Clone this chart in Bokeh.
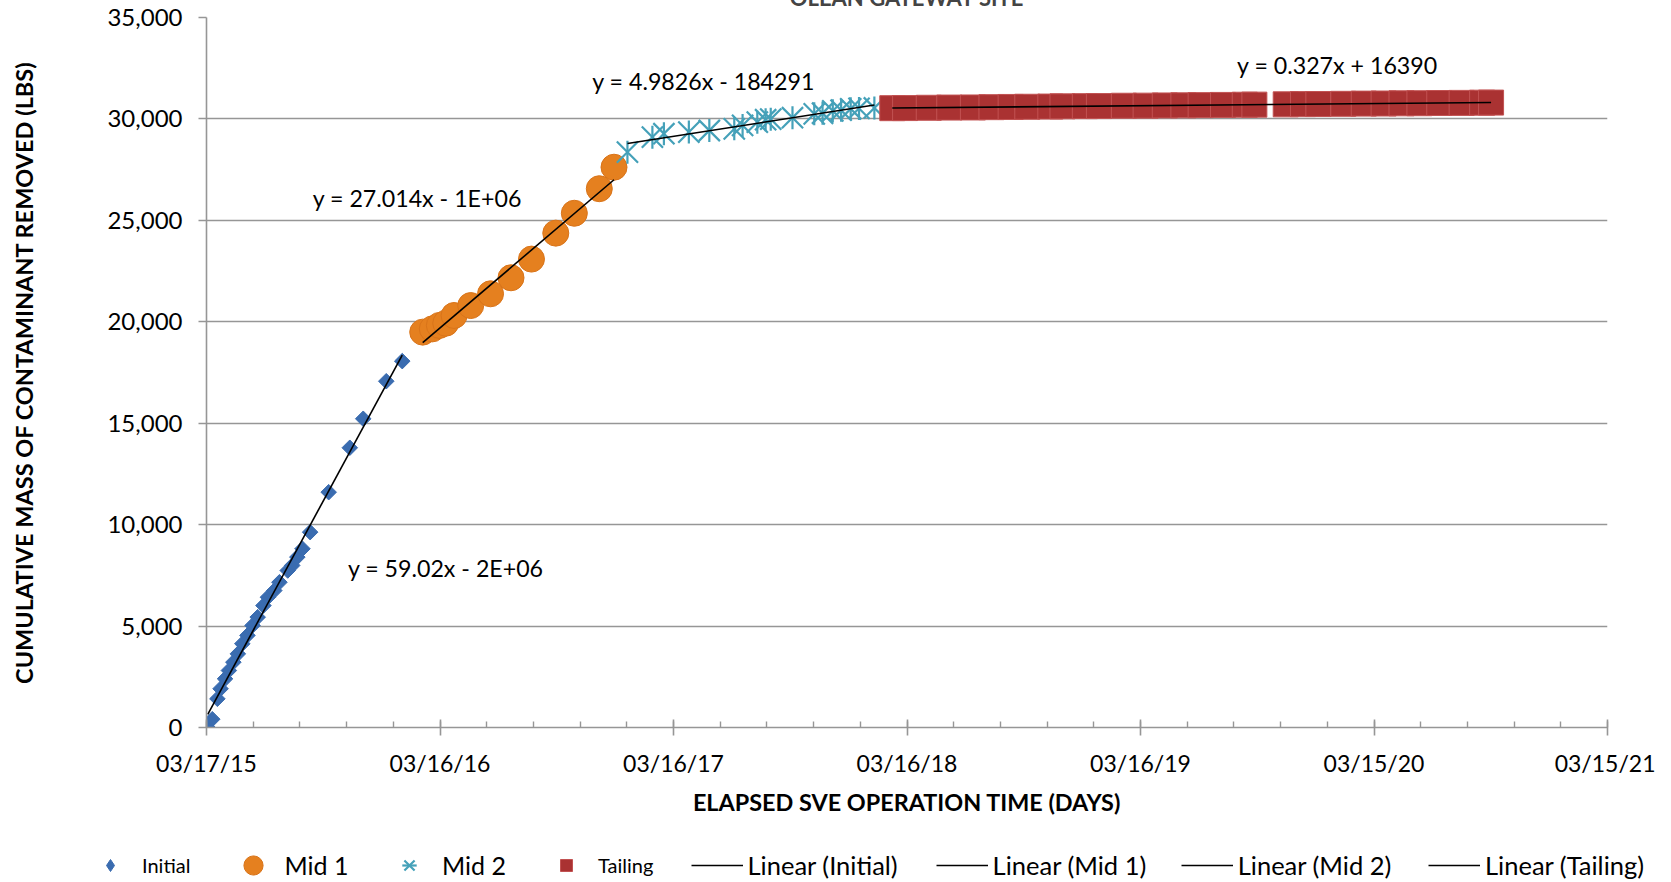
import numpy as np
from bokeh.plotting import figure
from bokeh.layouts import column
from bokeh.models import (Range1d, FixedTicker, NumeralTickFormatter, Legend,
                          LegendItem, Label)
from bokeh.embed import file_html
from bokeh.resources import INLINE

# ---------------- data (elapsed days since 03/17/15, cumulative lbs) ----------------
initial_days = [2, 9, 17, 22, 29, 35, 42, 49, 56, 64, 72, 80, 89, 96, 106, 114,
                127, 134, 142, 150, 162, 191, 224, 245, 281, 306]
initial_lbs = [0, 410, 1415, 1910, 2400, 2810, 3220, 3630, 4130, 4540, 5030, 5440,
               6010, 6420, 6750, 7160, 7740, 7990, 8400, 8810, 9630, 11600, 13790,
               15220, 17070, 18060]

mid1_days = [338, 353, 364, 374, 387, 413, 444, 476, 508, 546, 575, 614, 637]
mid1_lbs = [19490, 19650, 19820, 19930, 20310, 20800, 21380, 22170, 23090, 24370,
            25350, 26560, 27620]

mid2_days = [658, 697, 715, 754, 786, 825, 838, 861, 874, 882, 916, 950, 963, 979,
             992, 1007, 1020, 1044]
mid2_lbs = [28360, 29100, 29270, 29350, 29430, 29510, 29680, 29840, 29960, 29990,
            30060, 30250, 30280, 30400, 30430, 30500, 30520, 30540]

tail_days = [1072, 1092, 1129, 1161, 1198, 1227, 1257, 1283, 1319, 1338, 1373, 1395,
             1434, 1468, 1498, 1527, 1554, 1589, 1623, 1638, 1687, 1714, 1738, 1777,
             1809, 1840, 1868, 1896, 1927, 1962, 1994, 2008]
tail_lbs = [30530, 30535, 30550, 30560, 30565, 30580, 30590, 30600, 30610, 30620,
            30630, 30635, 30650, 30655, 30665, 30670, 30680, 30690, 30700, 30705,
            30720, 30730, 30735, 30745, 30755, 30760, 30770, 30775, 30785, 30790,
            30800, 30805]

series_names = ["Initial", "Mid 1", "Mid 2", "Tailing"]
equations = ["y = 59.02x - 2E+06", "y = 27.014x - 1E+06", "y = 4.9826x - 184291",
             "y = 0.327x + 16390"]
eq_days = [221, 166, 603, 1611]
eq_lbs = [7840, 26120, 31890, 32680]

x_tick_days = [0, 365, 730, 1095, 1460, 1825, 2190]
x_tick_labels = ["03/17/15", "03/16/16", "03/16/17", "03/16/18", "03/16/19",
                 "03/15/20", "03/15/21"]
x_minor_days = list(range(0, 2191, 73))
y_ticks = [0, 5000, 10000, 15000, 20000, 25000, 30000, 35000]

title_text = "OLEAN GATEWAY SITE"
x_title = "ELAPSED SVE OPERATION TIME (DAYS)"
y_title = "CUMULATIVE MASS OF CONTAMINANT REMOVED (LBS)"

# ---------------- styles ----------------
FONT = "Lato"
GRID = "#969696"
C_INIT = "#3a6cb0"
C_MID1 = "#e5801f"
C_MID1_LINE = "#d9741a"
C_MID2 = "#45a1b9"
C_TAIL = "#aa3232"
C_TAIL_LINE = "#c25252"

W = 1655
MAIN_H = 860
LEG_H = 66

# ---------------- main figure ----------------
p = figure(width=W, height=MAIN_H, output_backend="svg", toolbar_location=None,
           x_range=Range1d(0, 2190), y_range=Range1d(0, 35000),
           min_border_left=206, min_border_right=48, min_border_top=57,
           min_border_bottom=93)
p.outline_line_color = None
p.title.text = title_text
p.title.text_font = FONT
p.title.text_font_style = "bold"
p.title.text_font_size = "22px"
p.title.align = "center"
p.title.offset = -5
p.title.standoff = 14

p.xgrid.grid_line_color = None
p.ygrid.grid_line_color = GRID
p.ygrid.grid_line_width = 1.6
p.ygrid.ticker = FixedTicker(ticks=y_ticks)

xa = p.xaxis[0]
xa.ticker = FixedTicker(ticks=x_tick_days, minor_ticks=x_minor_days)
xa.major_label_overrides = {d: s for d, s in zip(x_tick_days, x_tick_labels)}
xa.axis_line_color = GRID
xa.axis_line_width = 1.6
xa.major_tick_line_color = GRID
xa.major_tick_line_width = 1.6
xa.major_tick_in = 8
xa.major_tick_out = 8
xa.minor_tick_line_color = GRID
xa.minor_tick_line_width = 1.4
xa.minor_tick_in = 6
xa.minor_tick_out = 0
xa.major_label_text_font = FONT
xa.major_label_text_font_size = "23px"
xa.major_label_text_color = "black"
xa.major_label_standoff = 13
xa.axis_label = x_title
xa.axis_label_text_font = FONT
xa.axis_label_text_font_style = "bold"
xa.axis_label_text_font_size = "23.4px"
xa.axis_label_text_color = "black"
xa.axis_label_standoff = 8

ya = p.yaxis[0]
ya.ticker = FixedTicker(ticks=y_ticks)
ya.formatter = NumeralTickFormatter(format="0,0")
ya.axis_line_color = GRID
ya.axis_line_width = 1.6
ya.major_tick_line_color = GRID
ya.major_tick_line_width = 1.6
ya.major_tick_in = 0
ya.major_tick_out = 8
ya.minor_tick_line_color = None
ya.major_label_text_font = FONT
ya.major_label_text_font_size = "24px"
ya.major_label_text_color = "black"
ya.major_label_standoff = 16
ya.axis_label = y_title
ya.axis_label_text_font = FONT
ya.axis_label_text_font_style = "bold"
ya.axis_label_text_font_size = "23.5px"
ya.axis_label_text_color = "black"
ya.axis_label_standoff = 66

# ---------------- series ----------------
def draw_series(fig, xs, ys, init_marker="square", init_angle=np.pi / 4, init_size=11,
                star=30, bar=23):
    r1 = fig.scatter(xs[0], ys[0], marker=init_marker, angle=init_angle, size=init_size,
                     fill_color=C_INIT, line_color=C_INIT)
    r2 = fig.scatter(xs[1], ys[1], marker="circle", size=26, fill_color=C_MID1,
                     line_color=C_MID1_LINE, line_width=1)
    # Excel "star" marker: a full-size X plus a vertical bar
    r3a = fig.scatter(xs[2], ys[2], marker="x", size=star, line_color=C_MID2,
                      line_width=2.2)
    r3b = fig.scatter(xs[2], ys[2], marker="dash", angle=np.pi / 2, size=bar,
                      line_color=C_MID2, line_width=2.2)
    r4 = fig.scatter(xs[3], ys[3], marker="square", size=25, fill_color=C_TAIL,
                     line_color=C_TAIL_LINE, line_width=1)
    return [[r1], [r2], [r3a, r3b], [r4]]

all_days = [initial_days, mid1_days, mid2_days, tail_days]
all_lbs = [initial_lbs, mid1_lbs, mid2_lbs, tail_lbs]
draw_series(p, all_days, all_lbs)

for d, v in zip(all_days, all_lbs):
    d = np.asarray(d, float)
    v = np.asarray(v, float)
    k, b = np.polyfit(d, v, 1)
    xs = [d.min(), d.max()]
    p.line(xs, [k * xs[0] + b, k * xs[1] + b], line_color="black", line_width=1.6)

for txt, ex, ey in zip(equations, eq_days, eq_lbs):
    p.add_layout(Label(x=ex, y=ey, text=txt, text_font=FONT, text_font_size="23.2px",
                       text_baseline="middle", text_align="left", text_color="black"))

# ---------------- legend strip (separate figure, same styles) ----------------
q = figure(width=W, height=LEG_H, output_backend="svg", toolbar_location=None,
           x_range=Range1d(0, 1), y_range=Range1d(0, 1),
           x_axis_type=None, y_axis_type=None,
           min_border_left=0, min_border_right=0, min_border_top=0,
           min_border_bottom=0)
q.outline_line_color = None
q.xgrid.grid_line_color = None
q.ygrid.grid_line_color = None
frame_offset = 0
try:
    q.frame_align = False
except Exception:
    frame_offset = 206  # legend strip frame gets aligned to the main frame

nan = [np.nan]
key_marks = draw_series(q, [nan] * 4, [nan] * 4, init_marker="diamond",
                        init_angle=0, init_size=12, star=22, bar=17)
key_lines = [[q.line(nan, nan, line_color="black", line_width=1.6)] for _ in range(4)]

ROW_FROM_BOTTOM = 21  # vertical centre of the legend row, px from strip bottom

def add_key(label, rends, left, gw, gh, standoff, fs):
    leg = Legend(items=[LegendItem(label=label, renderers=rends)],
                 location=(left - frame_offset, ROW_FROM_BOTTOM - gh / 2),
                 orientation="horizontal", glyph_width=gw, glyph_height=gh,
                 label_standoff=standoff, label_text_font=FONT,
                 label_text_font_size=fs, label_text_color="black",
                 padding=0, margin=0, spacing=0, border_line_color=None,
                 background_fill_alpha=0)
    q.add_layout(leg, "center")

add_key(series_names[0], key_marks[0], 95, 30, 30, 17, "20px")
add_key(series_names[1], key_marks[1], 228.6, 48, 48, 8, "25px")
add_key(series_names[2], key_marks[2], 391, 36, 36, 15, "25px")
add_key(series_names[3], key_marks[3], 551, 30, 30, 17, "20px")
for name, rend, lx in zip(series_names, key_lines, [690.5, 935.6, 1180.7, 1428]):
    add_key("Linear (" + name + ")", rend, lx, 52, 30, 5, "25.5px")

layout = column(p, q, spacing=0)
layout.styles = {"margin-top": "-40px", "margin-bottom": "-20px"}

open("out.html", "w").write(file_html(layout, INLINE))
